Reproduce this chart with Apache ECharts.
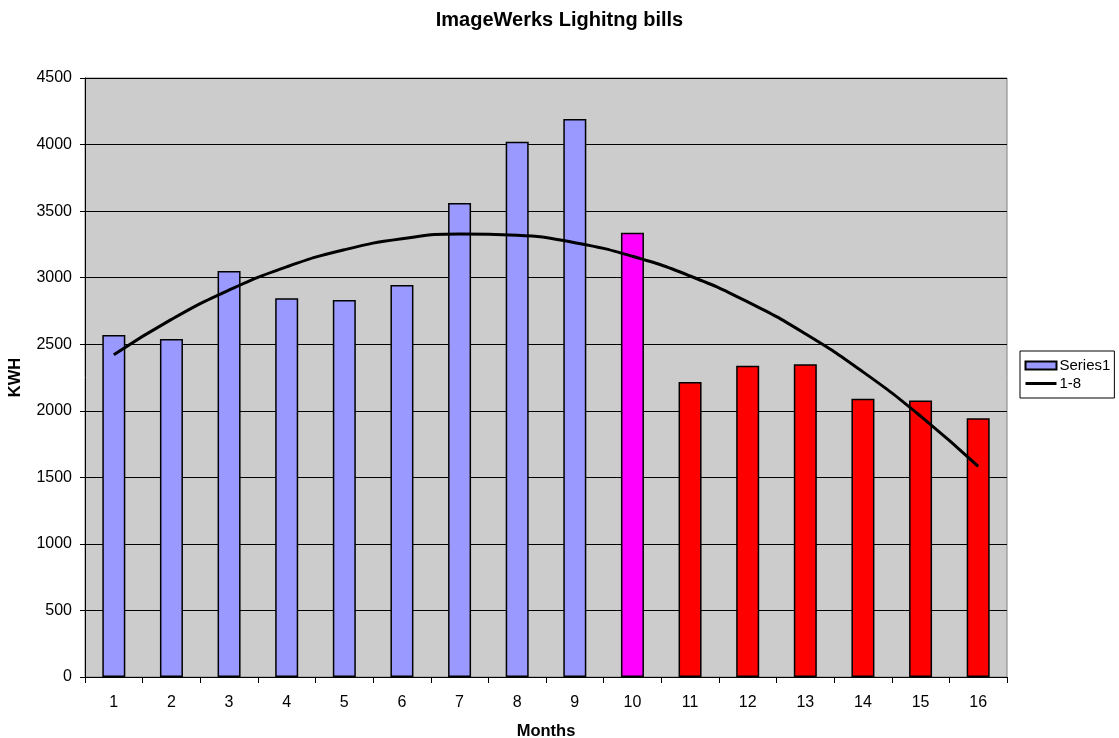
<!DOCTYPE html>
<html>
<head>
<meta charset="utf-8">
<script src="https://cdn.jsdelivr.net/npm/echarts@6/dist/echarts.min.js"></script>
<style>
html,body{margin:0;padding:0;background:#fff;}
#chart{width:1119px;height:738px;}
</style>
</head>
<body>
<div id="chart"></div>
<script>
// ---- data ----
const months = ['1','2','3','4','5','6','7','8','9','10','11','12','13','14','15','16'];
const kwh = [2570, 2540, 3050, 2845, 2832, 2945, 3561, 4022, 4192, 3338, 2216, 2339, 2349, 2091, 2078, 1943];
const barSeriesName = 'Series1';
const trendName = '1-8';
const yTicks = [0, 500, 1000, 1500, 2000, 2500, 3000, 3500, 4000, 4500];

// ---- styles ----
const FONT = "'Liberation Sans', Arial, sans-serif";
const BASE = '#9999FF', PIVOT = '#FF00FF', AFTER = '#FF0000';
function colorFor(monthLabel) {
  const m = Number(monthLabel);
  return m < 10 ? BASE : (m === 10 ? PIVOT : AFTER);
}

// polynomial (order 2) least-squares trendline over the bar data, as in the source chart
function quadFit(ys) {
  let S = [0,0,0,0,0], T = [0,0,0];
  ys.forEach((y, i) => {
    const x = i + 1;
    for (let k = 0; k < 5; k++) S[k] += Math.pow(x, k);
    for (let k = 0; k < 3; k++) T[k] += Math.pow(x, k) * y;
  });
  const A = [[S[0],S[1],S[2],T[0]],[S[1],S[2],S[3],T[1]],[S[2],S[3],S[4],T[2]]];
  for (let i = 0; i < 3; i++) {
    for (let j = i + 1; j < 3; j++) {
      const f = A[j][i] / A[i][i];
      for (let k = i; k < 4; k++) A[j][k] -= f * A[i][k];
    }
  }
  const c = [0,0,0];
  for (let i = 2; i >= 0; i--) {
    let s = A[i][3];
    for (let k = i + 1; k < 3; k++) s -= A[i][k] * c[k];
    c[i] = s / A[i][i];
  }
  return ys.map((_, i) => { const x = i + 1; return c[0] + c[1]*x + c[2]*x*x; });
}
const trend = quadFit(kwh);

const chart = echarts.init(document.getElementById('chart'), null, {renderer: 'canvas'});
chart.setOption({
  animation: false,
  backgroundColor: '#ffffff',
  textStyle: {fontFamily: FONT},
  title: {
    text: 'ImageWerks Lighitng bills',
    left: 'center',
    top: 5,
    textStyle: {fontFamily: FONT, fontSize: 20, fontWeight: 'bold', color: '#000'}
  },
  legend: {
    orient: 'vertical',
    left: 1020,
    top: 351,
    padding: [7, 4, 7, 4],
    itemGap: 3,
    itemWidth: 31,
    itemHeight: 8,
    backgroundColor: '#ffffff',
    borderColor: '#000000',
    borderWidth: 1,
    borderRadius: 0,
    textStyle: {fontFamily: FONT, fontSize: 15, color: '#000', padding: [0,0,0,-2]},
    data: [
      {name: barSeriesName, icon: 'rect'},
      {name: trendName, itemStyle: {opacity: 0, borderWidth: 0}, lineStyle: {width: 3, color: '#000'}}
    ]
  },
  grid: {
    left: 85, right: 112, top: 78, bottom: 61,
    containLabel: false,
    outerBoundsMode: 'none',
    show: true,
    backgroundColor: '#CCCCCC',
    borderColor: '#808080',
    borderWidth: 1
  },
  xAxis: {
    type: 'category',
    data: months,
    boundaryGap: true,
    name: 'Months',
    nameLocation: 'middle',
    nameGap: 46,
    nameTextStyle: {fontFamily: FONT, fontSize: 16.5, fontWeight: 'bold', color: '#000'},
    axisLine: {lineStyle: {color: '#000', width: 1}},
    axisTick: {show: true, length: 6, alignWithLabel: false, lineStyle: {color: '#000'}},
    axisLabel: {fontFamily: FONT, fontSize: 16, color: '#000', margin: 18},
    splitLine: {show: false}
  },
  yAxis: {
    type: 'value',
    min: yTicks[0],
    max: yTicks[yTicks.length - 1],
    interval: yTicks[1] - yTicks[0],
    name: 'KWH',
    nameLocation: 'middle',
    nameGap: 61,
    nameRotate: 90,
    nameTextStyle: {fontFamily: FONT, fontSize: 16.5, fontWeight: 'bold', color: '#000'},
    axisLine: {show: true, lineStyle: {color: '#000', width: 1}},
    axisTick: {show: true, length: 5, lineStyle: {color: '#000'}},
    axisLabel: {fontFamily: FONT, fontSize: 16, color: '#000', margin: 13, formatter: v => String(v)},
    splitLine: {show: true, lineStyle: {color: '#000', width: 1}}
  },
  series: [
    {
      name: barSeriesName,
      type: 'bar',
      barWidth: 23,
      itemStyle: {color: BASE, borderColor: '#000', borderWidth: 1.5},
      data: kwh.map((v, i) => ({value: v, itemStyle: {color: colorFor(months[i])}})),
      z: 2
    },
    {
      name: trendName,
      type: 'line',
      data: trend,
      smooth: true,
      symbol: 'none',
      showSymbol: false,
      lineStyle: {color: '#000', width: 3},
      itemStyle: {color: '#000'},
      z: 3
    }
  ]
});
</script>
</body>
</html>
